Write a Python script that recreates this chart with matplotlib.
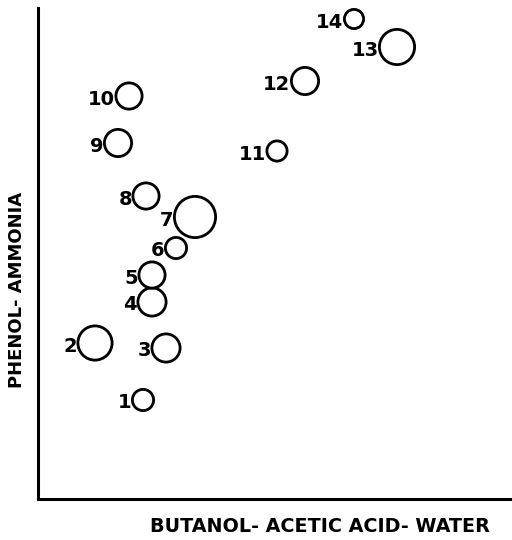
import matplotlib
matplotlib.use("Agg")
from matplotlib import pyplot as plt

# spot positions (arbitrary chromatogram units) and spot diameters
spot_id = ["1", "2", "3", "4", "5", "6", "7", "8", "9", "10", "11", "12", "13", "14"]
bawx = [105, 57, 128, 114, 114, 138, 157, 108, 80, 91, 239, 267, 359, 316]
phny = [99, 156, 151, 197, 224, 251, 282, 303, 356, 403, 348, 418, 452, 480]
spot_d = [24, 37, 31, 31, 29, 24, 44, 29, 30, 29, 23, 30, 38, 22]

dpi = 100
fig = plt.figure(figsize=(5.12, 5.40), dpi=dpi)
ax = fig.add_axes([38/512, 41/540, 474/512, 491/540])
ax.set_xlim(0, 474)
ax.set_ylim(0, 491)

lw = 2.8
pt = 72.0 / dpi
sizes = [((d - lw) * pt) ** 2 for d in spot_d]
ax.scatter(bawx, phny, s=sizes, facecolors="white", edgecolors="black",
           linewidths=lw * pt, zorder=3, clip_on=False)

for lab, x, y, d in zip(spot_id, bawx, phny, spot_d):
    ax.annotate(lab, (x, y), xytext=(-(d / 2 - 0.5) * pt, -3 * pt),
                textcoords="offset points", ha="right", va="center",
                fontsize=14, fontweight="bold", family="DejaVu Sans")

for s in ["top", "right"]:
    ax.spines[s].set_visible(False)
for s in ["left", "bottom"]:
    ax.spines[s].set_linewidth(2.2)
ax.set_xticks([])
ax.set_yticks([])

fig.text(320/512, 1 - 527/540, "BUTANOL- ACETIC ACID- WATER", ha="center",
         va="center", fontsize=13.8, fontweight="bold")
fig.text(17/512, 1 - 290/540, "PHENOL- AMMONIA", ha="center", va="center",
         rotation=90, fontsize=13, fontweight="bold")

fig.savefig("out.png", dpi=dpi)
